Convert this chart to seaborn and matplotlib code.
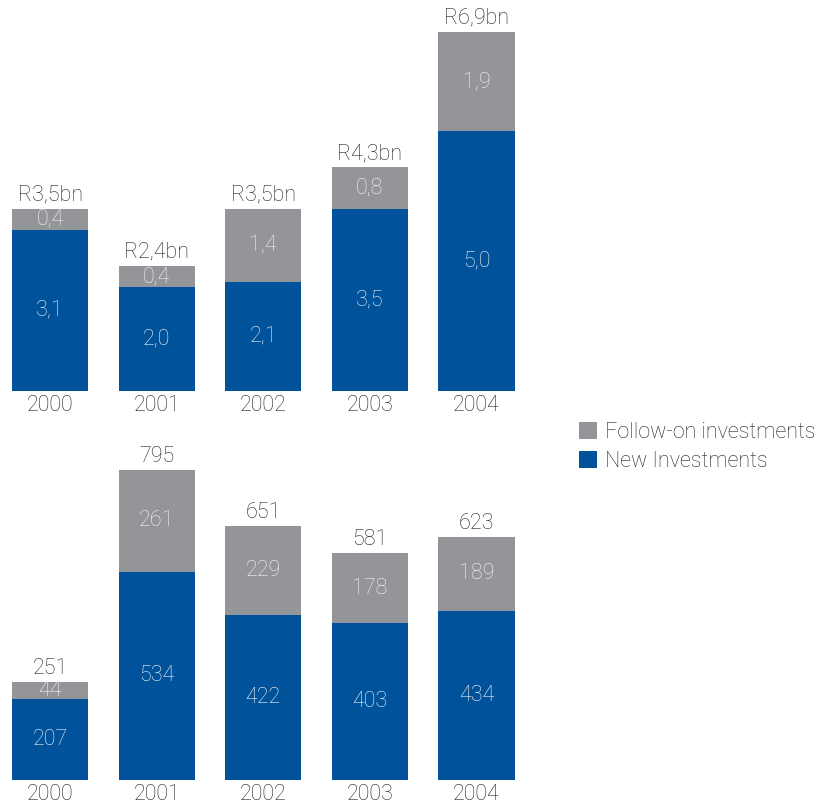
import matplotlib
matplotlib.use("Agg")
import matplotlib.pyplot as plt
from matplotlib.patches import Patch
import seaborn as sns
import pandas as pd

# Investment values per year: rand billions (top) and number of deals (bottom)
years = ["2000", "2001", "2002", "2003", "2004"]
value_new = [3.1, 2.0, 2.1, 3.5, 5.0]
value_follow = [0.4, 0.4, 1.4, 0.8, 1.9]
count_new = [207, 534, 422, 403, 434]
count_follow = [44, 261, 229, 178, 189]

BLUE = "#00529B"
GREY = "#939598"
DARK = "#222222"
LIGHT = "#F4F4F4"
FONT = ["Roboto", "DejaVu Sans"]
FS = 15.5

sns.set_theme(style="white")
plt.rcParams["font.family"] = FONT
plt.rcParams["font.weight"] = "light"

W, H = 825, 807
fig = plt.figure(figsize=(W / 100, H / 100), dpi=100)


def px_axes(left, top, width, height):
    return fig.add_axes([left / W, 1 - (top + height) / H, width / W, height / H])


def stacked(ax, new, follow, ymax, fmt_part, fmt_total):
    total = [n + f for n, f in zip(new, follow)]
    df = pd.DataFrame({"year": years, "new": new, "follow": follow, "total": total})
    sns.barplot(data=df, x="year", y="total", color=GREY, saturation=1,
                width=0.715, ax=ax, order=years, linewidth=0)
    sns.barplot(data=df, x="year", y="new", color=BLUE, saturation=1,
                width=0.715, ax=ax, order=years, linewidth=0)
    ax.set_xlim(-0.47, 4.53)
    ax.set_ylim(0, ymax)
    ax.set_xlabel("")
    ax.set_ylabel("")
    ax.set_yticks([])
    ax.tick_params(axis="x", length=0, pad=3, labelsize=FS, labelcolor=DARK)
    for s in ax.spines.values():
        s.set_visible(False)
    ax.patch.set_alpha(0)
    for i, (n, f, t) in enumerate(zip(new, follow, total)):
        ax.text(i, n / 2, fmt_part(n), ha="center", va="center",
                fontsize=FS, color=LIGHT)
        ax.text(i, n + f / 2, fmt_part(f), ha="center", va="center",
                fontsize=FS, color=LIGHT)
        ax.annotate(fmt_total(t), (i, t), xytext=(0, 6), textcoords="offset points",
                    ha="center", va="baseline", fontsize=FS, color=DARK)


def comma(v):
    return f"{v:.1f}".replace(".", ",")


ax_top = px_axes(0, 0, 533, 391)
stacked(ax_top, value_new, value_follow, 391 / 52.0,
        comma, lambda t: "R" + comma(t) + "bn")

ax_bot = px_axes(0, 420, 533, 360)
stacked(ax_bot, count_new, count_follow, 360 / 0.39,
        lambda v: f"{v:d}", lambda t: f"{t:d}")

handles = [Patch(facecolor=GREY, edgecolor="none", label="Follow-on investments"),
           Patch(facecolor=BLUE, edgecolor="none", label="New Investments")]
fig.legend(handles=handles, loc="center left", bbox_to_anchor=(579 / W, 1 - 447 / H),
           frameon=False, fontsize=FS, handlelength=0.85, handleheight=0.85,
           handletextpad=0.35, labelspacing=0.4, borderpad=0, borderaxespad=0,
           labelcolor=DARK)

fig.savefig("out.png", dpi=100)
